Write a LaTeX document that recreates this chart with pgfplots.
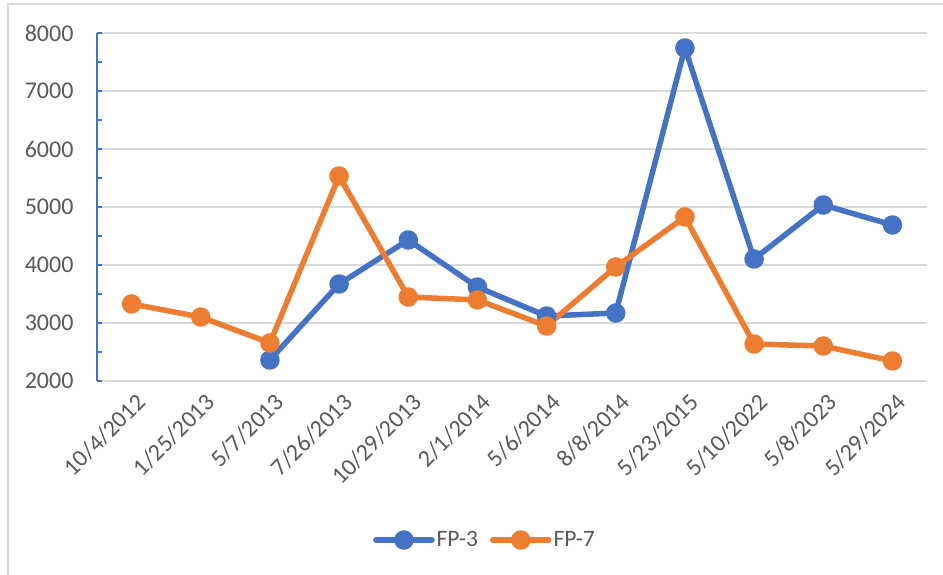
\documentclass[border=0pt]{standalone}
\usepackage{pgfplots}
\pgfplotsset{compat=1.18}
\usepackage{fontspec}
\setmainfont{Carlito}
\definecolor{cblue}{HTML}{4472C4}
\definecolor{corange}{HTML}{ED7D31}
\definecolor{cgrid}{HTML}{D9D9D9}
\definecolor{ctext}{HTML}{595959}
\begin{document}
\begin{tikzpicture}[x=1bp,y=1bp]
\useasboundingbox (0,0) rectangle (943,575);
\draw[cgrid, line width=1.5bp] (8,0) -- (8,571) -- (943,571);
\begin{axis}[
  at={(97bp,194bp)}, anchor=south west,
  scale only axis, width=830bp, height=348bp,
  xmin=-0.5, xmax=11.5, ymin=2000, ymax=8000,
  xtick={0,...,11},
  xticklabels={10/4/2012,1/25/2013,5/7/2013,7/26/2013,10/29/2013,2/1/2014,5/6/2014,8/8/2014,5/23/2015,5/10/2022,5/8/2023,5/29/2024},
  ytick={2000,3000,...,8000},
  minor y tick num=1,
  /pgf/number format/assume math mode=true,
  /pgf/number format/1000 sep={},
  axis lines*=left,
  x axis line style={draw=none},
  y axis line style={draw=cblue, line width=1.5bp},
  xtick style={draw=none},
  ytick style={draw=cblue, line width=1.3bp},
  tick align=inside,
  major tick length=5bp, minor tick length=5bp,
  ymajorgrids, major grid style={cgrid, line width=1.5bp},
  ticklabel style={font=\fontsize{24bp}{28bp}\selectfont, text=ctext},
  yticklabel style={anchor=east, xshift=-20bp},
  xticklabel style={rotate=45, anchor=east, xshift=-2bp, yshift=-19bp},
  legend columns=2,
  legend style={at={(0.4675,-0.457)}, anchor=center, draw=none, fill=none,
    font=\fontsize{23.5bp}{28bp}\selectfont, text=ctext,
    /tikz/every even column/.append style={column sep=10bp}},
  legend image code/.code={\draw[#1, line cap=round, mark repeat=2, mark phase=2] plot coordinates {(0bp,0bp) (28bp,0bp) (56bp,0bp)};},
  every axis plot/.append style={line width=5.5bp, line join=round, mark=*, mark size=7bp, mark options={line width=0bp}},
  clip=false,
]
\addplot[cblue, mark options={fill=cblue, draw=cblue}] coordinates {
(2,2362) (3,3672) (4,4431) (5,3620) (6,3120) (7,3172) (8,7741) (9,4103) (10,5034) (11,4690)};
\addlegendentry{FP-3}
\addplot[corange, mark options={fill=corange, draw=corange}] coordinates {
(0,3328) (1,3103) (2,2655) (3,5534) (4,3448) (5,3397) (6,2948) (7,3966) (8,4828) (9,2638) (10,2603) (11,2345)};
\addlegendentry{FP-7}
\end{axis}
\end{tikzpicture}
\end{document}
